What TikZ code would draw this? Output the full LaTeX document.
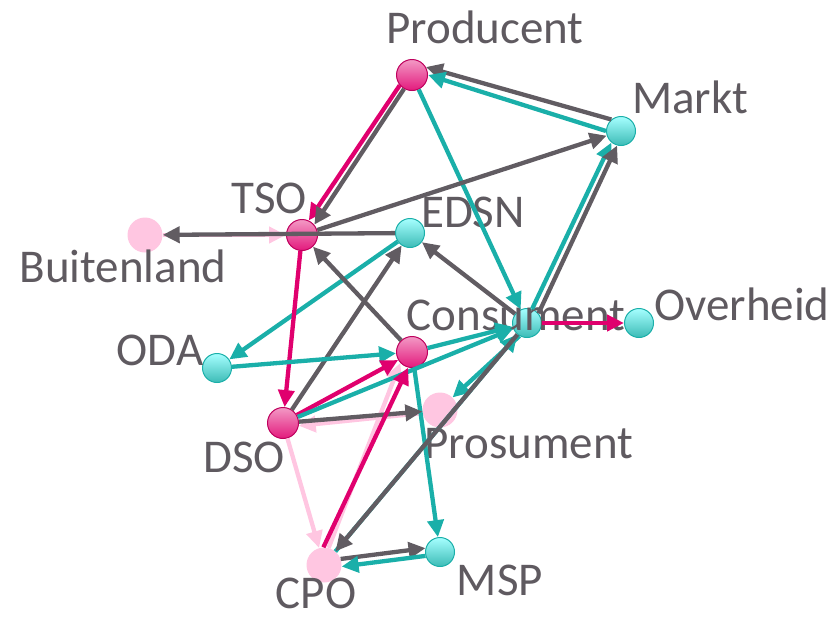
\documentclass[tikz,border=0pt]{standalone}
\usepackage{fontspec}
\setmainfont{Carlito}
\usepackage{tikz}
\usetikzlibrary{arrows.meta}

\definecolor{edgegray}{HTML}{615C62}
\definecolor{edgeteal}{HTML}{1AAFA9}
\definecolor{edgemag}{HTML}{E0006E}
\definecolor{softpink}{HTML}{FFC6E1}
\definecolor{labelgray}{HTML}{5F5A60}

\tikzset{
  magnode/.style={circle, draw=edgemag!85!black, line width=1pt, top color=edgemag!40!white, bottom color=edgemag!90!white, minimum size=31pt, inner sep=0pt},
  cyannode/.style={circle, draw=edgeteal, line width=1pt, top color=cyan!35!white, bottom color=edgeteal!85!white, minimum size=29pt, inner sep=0pt},
  pinknode/.style={circle, fill=softpink, minimum size=35pt, inner sep=0pt},
  lbl/.style={anchor=base, text=labelgray, font=\fontsize{47}{50}\selectfont, inner sep=0pt},
  gr/.style={draw=edgegray, line width=4.3pt, -{Triangle[length=17pt,width=16pt]}},
  tl/.style={draw=edgeteal, line width=4.3pt, -{Triangle[length=17pt,width=16pt]}},
  mg/.style={draw=edgemag, line width=4.3pt, -{Triangle[length=17pt,width=16pt]}},
  pk/.style={draw=softpink, line width=4.3pt, -{Triangle[length=17pt,width=16pt]}}
}

\begin{document}
\begin{tikzpicture}[x=1pt,y=-1pt]
            \useasboundingbox (0,0) rectangle (835,619);
            % Nodes
            \node[magnode] (prod) at (412,75) {};
            \node[cyannode] (markt) at (621,131) {};
            \node[magnode] (tso) at (302,235) {};
            \node[cyannode] (edsn) at (410,233) {};
            \node[pinknode] (buit) at (145,235) {};
            \node[cyannode] (cons) at (527,323) {};
            \node[cyannode] (over) at (639,323) {};
            \node[cyannode] (oda) at (217,368) {};
            \node[magnode] (mid) at (412,352) {};
            \node[magnode] (dso) at (283,423) {};
            \node[pinknode] (pros) at (440,410) {};
            \node[pinknode] (cpo) at (324,565) {};
            \node[cyannode] (msp) at (440,552) {};
            % Labels
            \node[lbl] (prod-l) at (485,43) {Producent};
            \node[lbl] (markt-l) at (690,113) {Markt};
            \node[lbl] (tso-l) at (269,213) {TSO};
            \node[lbl] (edsn-l) at (473,227) {EDSN};
            \node[lbl] (buit-l) at (123,282) {Buitenland};
            \node[lbl] (cons-l) at (516,330) {Consument};
            \node[lbl] (over-l) at (742,320) {Overheid};
            \node[lbl] (oda-l) at (160,365) {ODA};
            \node[lbl] (dso-l) at (244,472) {DSO};
            \node[lbl] (pros-l) at (529,458) {Prosument};
            \node[lbl] (cpo-l) at (316,608) {CPO};
            \node[lbl] (msp-l) at (500,595) {MSP};
            % Edges
            \draw[pk] (buit) -- (tso);
            \draw[pk] (pros.190) -- (dso.-10);
            \draw[pk] (dso) -- (cpo);
            \draw[pk] (cpo.75) -- (mid.223);
            \draw[tl] (cpo) -- (cons);
            \draw[gr] (markt.130) -- (prod.30);
            \draw[tl] (markt.180) -- (prod.0);
            \draw[mg] (prod.220) -- (tso.65);
            \draw[gr] (prod.240) -- (tso.40);
            \draw[tl] (prod) -- (cons);
            \draw[gr] (tso) -- (markt);
            \draw[gr] (edsn) -- (buit);
            \draw[gr] (cons) -- (edsn);
            \draw[tl] (edsn) -- (oda);
            \draw[gr] (dso) -- (edsn);
            \draw[gr] (mid) -- (tso);
            \draw[mg] (tso) -- (dso);
            \draw[tl] (oda) -- (mid);
            \draw[mg] (dso.30) -- (mid.210);
            \draw[tl] (dso) -- (cons);
            \draw[tl] (mid) -- (cons);
            \draw[tl] (cons.70) -- (markt.230);
            \draw[gr] (cons.40) -- (markt.255);
            \draw[mg] (cons) -- (over);
            \draw[tl] (cons.240) -- (pros.45);
            \draw[tl] (mid) -- (msp);
            \draw[gr] (dso) -- (pros);
            \draw[mg] (cpo.92) -- (mid.256);
            \draw[gr] (cons) -- (cpo);
            \draw[gr] (cpo.20) -- (msp.165);
            \draw[tl] (msp.195) -- (cpo.-5);
        \end{tikzpicture}
\end{document}
